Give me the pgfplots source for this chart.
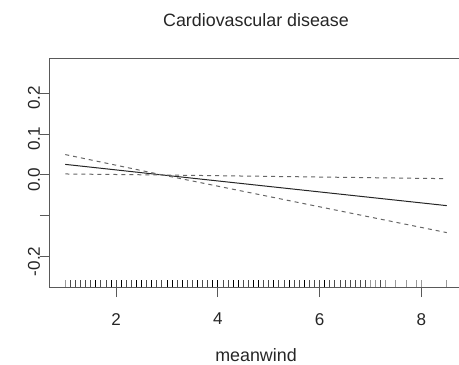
\documentclass[border=0pt]{standalone}
\usepackage{fontspec}
\setmainfont{Liberation Sans}
\usepackage{pgfplots}
\pgfplotsset{compat=1.18}
\begin{document}
\begin{tikzpicture}
\useasboundingbox (-37.5pt,-57.75pt) rectangle (306.75pt,215.25pt);
\begin{axis}[
  at={(0,0)}, anchor=south west,
  scale only axis, width=309pt, height=171.75pt,
  xmin=0.7, xmax=8.8, ymin=-0.2742, ymax=0.2864,
  clip=false,
  axis line style={black!65, line width=0.75pt},
  tick style={black!65, line width=0.75pt},
  tick align=outside, major tick length=7.6pt,
  xtick pos=bottom, ytick pos=left,
  xtick={2,4,6,8}, xticklabels={2,4,6,8},
  ytick={-0.2,-0.1,0,0.1,0.2}, yticklabels={-0.2,{},0.0,0.1,0.2},
  ticklabel style={font=\fontsize{12.8pt}{14pt}\selectfont, text=black!85},
  xticklabel style={yshift=-8.5pt},
  yticklabel style={rotate=90, anchor=base, xshift=-3.5pt},
  every axis title/.style={at={(0.5,1)}, anchor=base, yshift=23.6pt, font=\fontsize{13.4pt}{16pt}\selectfont, text=black!85},
  title={Cardiovascular disease},
  every axis x label/.style={at={(0.5,0)}, anchor=base, yshift=-55.9pt, font=\fontsize{13.4pt}{16pt}\selectfont, text=black!85},
  xlabel={meanwind},
]
% fitted smooth
\addplot[black!85, line width=0.75pt] coordinates {(1.0,0.026) (2.917,0.0) (8.5,-0.075)};
% confidence bands
\addplot[black!60, line width=0.75pt, dash pattern=on 3pt off 3pt] coordinates {(1.0,0.050) (2.917,0.0) (8.5,-0.009)};
\addplot[black!60, line width=0.75pt, dash pattern=on 3pt off 3pt] coordinates {(1.0,0.0025) (2.917,0.0) (8.5,-0.141)};
% rug: dark
\addplot[only marks, mark=|, mark size=2.625pt, black, mark options={line width=0.6pt, yshift=2.625pt}]
 coordinates {(1.6,-0.2742) (1.9,-0.2742) (2.1,-0.2742) (2.4,-0.2742) (2.5,-0.2742) (2.7,-0.2742) (3.0,-0.2742) (3.1,-0.2742) (3.3,-0.2742) (3.6,-0.2742) (3.9,-0.2742) (4.0,-0.2742) (4.3,-0.2742) (4.4,-0.2742) (4.7,-0.2742) (4.8,-0.2742) (5.1,-0.2742) (5.4,-0.2742) (5.7,-0.2742) (6.1,-0.2742)};
% rug: medium
\addplot[only marks, mark=|, mark size=2.625pt, black!70, mark options={line width=0.6pt, yshift=2.625pt}]
 coordinates {(1.1,-0.2742) (1.2,-0.2742) (1.3,-0.2742) (1.4,-0.2742) (1.5,-0.2742) (1.7,-0.2742) (1.8,-0.2742) (2.0,-0.2742) (2.2,-0.2742) (2.3,-0.2742) (2.6,-0.2742) (2.8,-0.2742) (2.9,-0.2742) (3.2,-0.2742) (3.4,-0.2742) (3.5,-0.2742) (3.7,-0.2742) (3.8,-0.2742) (4.1,-0.2742) (4.2,-0.2742) (4.5,-0.2742) (4.6,-0.2742) (4.9,-0.2742) (5.0,-0.2742) (5.2,-0.2742) (5.3,-0.2742) (5.5,-0.2742) (5.6,-0.2742) (5.8,-0.2742) (5.9,-0.2742) (6.0,-0.2742) (6.2,-0.2742) (6.3,-0.2742) (6.4,-0.2742) (6.5,-0.2742) (6.6,-0.2742) (6.7,-0.2742) (6.8,-0.2742) (6.9,-0.2742) (7.2,-0.2742)};
% rug: light
\addplot[only marks, mark=|, mark size=2.625pt, black!40, mark options={line width=0.6pt, yshift=2.625pt}]
 coordinates {(1.0,-0.2742) (7.0,-0.2742) (7.1,-0.2742) (7.3,-0.2742) (7.5,-0.2742) (7.7,-0.2742) (7.9,-0.2742) (8.0,-0.2742) (8.5,-0.2742)};
\end{axis}
\end{tikzpicture}
\end{document}
